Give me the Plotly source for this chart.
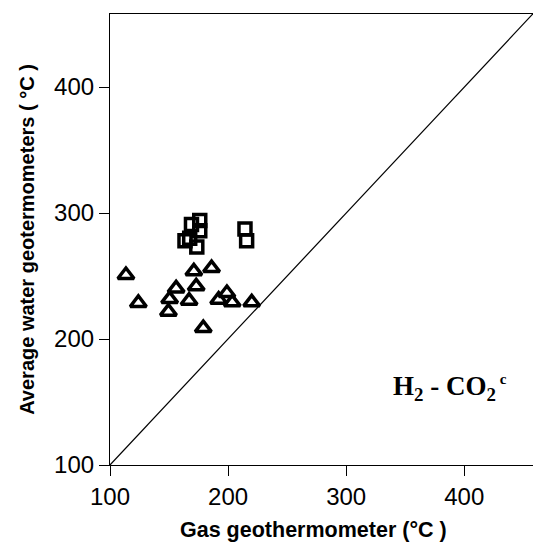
import plotly.graph_objects as go

# Data
tri_x = [113.5, 124, 149.5, 150.5, 156, 167, 171, 173, 186, 179, 192, 199, 203.5, 220]
tri_y = [250.8, 228.6, 221.7, 231.7, 240.2, 230.4, 253.7, 241.8, 256.3, 208.7, 231.2, 236.5, 229.1, 229.1]

sq_x = [169, 176, 176, 163.5, 167.5, 173.5, 214.3, 215.7]
sq_y = [291, 294, 286, 278, 280, 273, 287.3, 278]

x_ticks = [100, 200, 300, 400]
y_ticks = [100, 200, 300, 400]
line_ends = [100, 458]

fig = go.Figure()
fig.add_trace(go.Scatter(x=line_ends, y=line_ends, mode="lines",
                         line=dict(color="black", width=1.2), showlegend=False, hoverinfo="skip"))
fig.add_trace(go.Scatter(x=tri_x, y=tri_y, mode="markers",
                         marker=dict(symbol="triangle-up-open", size=14, color="black",
                                     line=dict(width=3.5, color="black")), showlegend=False))
fig.add_trace(go.Scatter(x=sq_x, y=sq_y, mode="markers",
                         marker=dict(symbol="square-open", size=12, color="black",
                                     line=dict(width=3.5, color="black")), showlegend=False))

fig.add_annotation(x=388, y=161, xref="x", yref="y",
                   text="<b>H<sub>2</sub> - CO<sub>2</sub><sup><span style='font-size:15px'> c</span></sup></b>",
                   showarrow=False, font=dict(family="Liberation Serif", size=27, color="black"))

fig.add_annotation(x=0.48, y=-0.144, xref="paper", yref="paper",
                   text="<b>Gas geothermometer (°C )</b>", showarrow=False,
                   xanchor="center", yanchor="middle",
                   font=dict(family="Liberation Sans, Arial", size=21.5, color="black"))

fig.update_layout(
    width=533, height=552,
    margin=dict(l=110, r=0, t=14, b=87),
    paper_bgcolor="white", plot_bgcolor="white",
    font=dict(family="Liberation Sans, Arial", color="black"),
    xaxis=dict(range=[100, 458.2], tickvals=x_ticks, ticks="outside", ticklen=10, tickwidth=1.2,
               tickcolor="black", showline=True, linecolor="black", linewidth=1.2, mirror=True,
               showgrid=False, zeroline=False, tickfont=dict(size=24)),
    yaxis=dict(range=[100, 458], tickvals=y_ticks, ticks="outside", ticklen=10, tickwidth=1.2,
               tickcolor="black", showline=True, linecolor="black", linewidth=1.2,
               showgrid=False, zeroline=False, tickfont=dict(size=24),
               title=dict(text="<b>Average water geotermometers ( °C )</b>", font=dict(size=20), standoff=14)),
)

fig.write_html("out.html")
